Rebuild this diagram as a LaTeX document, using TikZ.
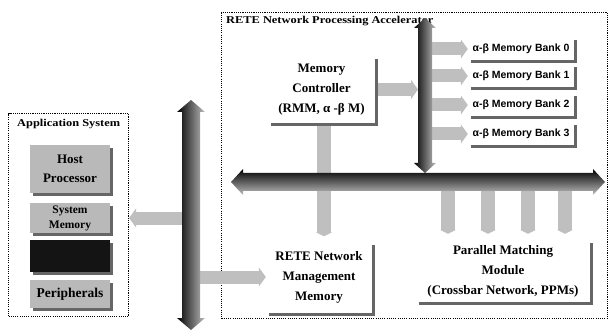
\documentclass[tikz,border=0pt]{standalone}
\usepackage{fontspec}
\setmainfont{Liberation Serif}
\newfontfamily\banksans{Liberation Sans}
\newfontfamily\labelfont[FakeStretch=1.18]{Liberation Serif}
\usetikzlibrary{arrows.meta,shadows,calc,backgrounds}

\begin{document}
\begin{tikzpicture}[x=1pt,y=-1pt,
  frame/.style={draw=black, line width=1.1pt, dash pattern=on 1.1pt off 1.1pt, inner sep=0pt},
  framelabel/.style={anchor=base west, inner sep=0pt, font=\labelfont\bfseries\fontsize{10.5}{12}\selectfont},
  shadowed/.style={drop shadow={shadow xshift=3pt, shadow yshift=-3pt, fill=black!60, opacity=1}},
  unit/.style={shadowed, fill=white, inner sep=0pt, align=center, font=\bfseries\fontsize{13}{20}\selectfont},
  hostunit/.style={shadowed, fill=gray!55, inner sep=0pt, align=center, minimum width=80pt},
  bank/.style={shadowed, fill=white, inner sep=0pt, minimum width=106pt, minimum height=23pt,
               font=\banksans\bfseries\fontsize{10.5}{12}\selectfont},
  link/.style={draw=gray!50, line width=13pt},
  linkarrow/.style={link, -{Triangle[width=19pt,length=7pt]}},
  droplink/.style={link, line width=14pt, -{Triangle[width=16pt,length=4pt]}}
]
\useasboundingbox (0,0) rectangle (610,331);

% --- application system units ---
\node[hostunit, minimum height=48pt, font=\bfseries\fontsize{13}{19}\selectfont] (host) at (70,169) {Host\\Processor};
\node[hostunit, minimum height=30pt, font=\bfseries\fontsize{11.5}{15}\selectfont] (sysmem) at (70,218) {System\\Memory};
\node[hostunit, fill=black!92, minimum height=32pt] (darkunit) at (70,256) {};
\node[hostunit, minimum height=28pt, font=\bfseries\fontsize{13.5}{16}\selectfont] (periph) at (70,294) {Peripherals};

% --- accelerator units ---
\node[unit, minimum width=107pt, minimum height=67pt] (memctrl) at (321.5,89.5) {Memory\\Controller\\(RMM, α -β M)};
\node[unit, minimum width=106pt, minimum height=71pt] (mgmt) at (319,277) {RETE Network\\Management\\Memory};
\node[unit, minimum width=174pt, minimum height=62pt] (pmm) at (503,271) {Parallel Matching\\Module\\(Crossbar Network, PPMs)};
\foreach \b/\y in {0/49,1/76,2/105,3/134}
  \node[bank] (bank\b) at (521,\y) {α-β Memory Bank \b};

% reference points on the buses
\coordinate (lbus) at (191,215);
\coordinate (cbus) at (425,95);
\coordinate (cbusL) at (418,95);
\coordinate (riser) at (324,182);
\foreach \i/\x in {0/448,1/488,2/528,3/565}
  \coordinate (tap\i) at (\x,182);

\begin{pgfonlayer}{background}
  % dotted enclosures
  \node[frame, anchor=north west, minimum width=120pt, minimum height=203pt] (app) at (8,113) {};
  \node[framelabel] (applabel) at (17,127) {Application System};
  \node[frame, anchor=north west, minimum width=386pt, minimum height=306pt] (rete) at (221,12) {};
  \node[framelabel] (retelabel) at (226,24) {RETE Network Processing Accelerator};

  % links between units and buses
  \draw[linkarrow] (lbus |- sysmem) -- (app.east |- sysmem);
  \draw[linkarrow] (lbus |- mgmt) -- (mgmt.west);
  \draw[linkarrow] (memctrl.east) -- (cbusL |- memctrl.east);
  \foreach \b in {0,...,3}
    \draw[linkarrow] (cbus |- bank\b) -- (bank\b.west);
  \draw[droplink, shorten >=5pt] (riser |- memctrl.south) -- (riser |- mgmt.north);
  \foreach \i in {0,...,3}
    \draw[droplink, shorten >=6pt] (tap\i) -- (tap\i |- pmm.north);
\end{pgfonlayer}

% --- buses ---
% system bus (vertical, left)
\shade[left color=black, right color=gray!50]
  (191,100) -- (205,112) -- (200,112) -- (200,318) -- (205,318) -- (191,330)
  -- (177,318) -- (182,318) -- (182,112) -- (177,112) -- cycle;
% memory bus (vertical, centre)
\shade[left color=black, right color=gray!50]
  (425,18) -- (436,28) -- (432,28) -- (432,163) -- (436,163) -- (425,173)
  -- (414,163) -- (418,163) -- (418,28) -- (414,28) -- cycle;
% internal bus (horizontal)
\shade[top color=black, bottom color=gray!50]
  (231,182) -- (243,169) -- (243,173) -- (593,173) -- (593,169) -- (605,182)
  -- (593,195) -- (593,191) -- (243,191) -- (243,195) -- cycle;
\end{tikzpicture}
\end{document}
